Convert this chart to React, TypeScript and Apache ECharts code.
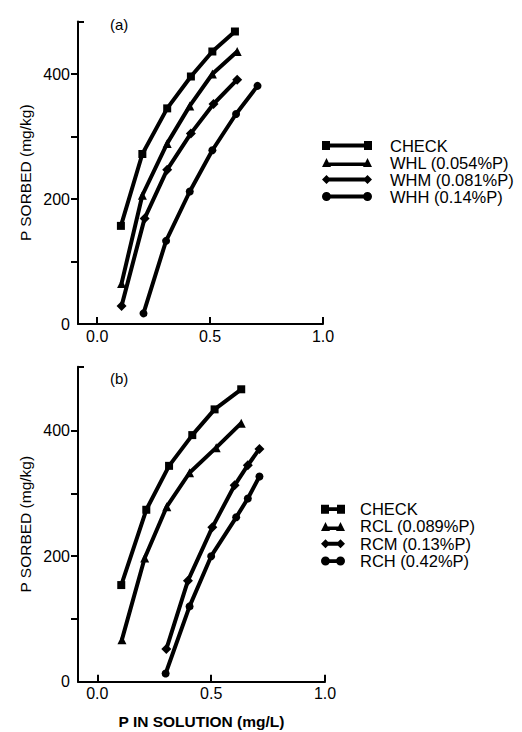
import React, { useEffect, useRef } from "react";
import * as echarts from "echarts";

const FONT = '"Liberation Sans", Arial, Helvetica, sans-serif';

// Panel (a)
const aCheckX = [0.105, 0.2, 0.31, 0.415, 0.51, 0.61];
const aCheckY = [157, 272, 345, 396, 436, 468];
const aWhlX = [0.108, 0.2, 0.31, 0.41, 0.51, 0.62];
const aWhlY = [65, 206, 289, 349, 400, 436];
const aWhmX = [0.108, 0.21, 0.31, 0.415, 0.515, 0.62];
const aWhmY = [29, 169, 247, 305, 352, 391];
const aWhhX = [0.205, 0.305, 0.41, 0.51, 0.615, 0.71];
const aWhhY = [17, 133, 212, 278, 336, 381];

// Panel (b)
const bCheckX = [0.105, 0.215, 0.315, 0.417, 0.515, 0.632];
const bCheckY = [154, 274, 344, 393, 434, 466];
const bRclX = [0.108, 0.208, 0.305, 0.405, 0.522, 0.632];
const bRclY = [67, 197, 279, 333, 373, 412];
const bRcmX = [0.303, 0.398, 0.505, 0.603, 0.661, 0.712];
const bRcmY = [52, 161, 246, 313, 345, 371];
const bRchX = [0.3, 0.405, 0.5, 0.61, 0.661, 0.712];
const bRchY = [13, 120, 200, 262, 292, 327];

const namesA = ["CHECK", "WHL (0.054%P)", "WHM (0.081%P)", "WHH (0.14%P)"];
const namesB = ["CHECK", "RCL (0.089%P)", "RCM (0.13%P)", "RCH (0.42%P)"];
const symbols = ["rect", "triangle", "diamond", "circle"];
const symbolSizes = [8, 9, 10, 8];

const xTickValues = [0, 0.5, 1.0];
const yLabelValues = [0, 200, 400];
const yTickValues = [100, 200, 300, 400];
const xMin = -0.085;
const xMax = 1.0;
const yMaxA = 484;
const yMaxB = 502;

const zip = (xs: number[], ys: number[]) => xs.map((x, i) => [x, ys[i]]);

function marker(kind: string, x0: number): string {
  switch (kind) {
    case "rect":
      return `M${x0},0 H${x0 + 8} V9 H${x0} Z`;
    case "triangle":
      return `M${x0},9 L${x0 + 4.5},0 L${x0 + 9},9 Z`;
    case "diamond":
      return `M${x0},4.5 L${x0 + 4.5},0 L${x0 + 9},4.5 L${x0 + 4.5},9 Z`;
    default:
      return `M${x0},4.5 A4.5,4.5 0 1 1 ${x0 + 9},4.5 A4.5,4.5 0 1 1 ${x0},4.5 Z`;
  }
}

function iconPath(kind: string, W: number): string {
  const mw = kind === "rect" ? 8 : 9;
  const lineY = kind === "triangle" ? "M4,4.5 H" + (W - 4) + " V8 H4 Z" : `M4,2.6 H${W - 4} V6.4 H4 Z`;
  return "path://" + marker(kind, 0) + " " + marker(kind, W - mw) + " " + lineY;
}

function lineSeries(name: string, xs: number[], ys: number[], k: number, gi: number) {
  return {
    type: "line",
    name,
    xAxisIndex: gi,
    yAxisIndex: gi,
    data: zip(xs, ys),
    symbol: symbols[k],
    symbolSize: symbolSizes[k],
    showSymbol: true,
    lineStyle: { color: "#000", width: 4 },
    itemStyle: { color: "#000" },
    z: 3,
  };
}

const axisText = { color: "#000", fontSize: 16, fontFamily: FONT };

function xAxis(gi: number, withName: boolean) {
  return {
    type: "value",
    gridIndex: gi,
    min: xMin,
    max: xMax,
    axisLine: { show: true, onZero: false, lineStyle: { color: "#000", width: 2 } },
    axisTick: { show: true, inside: true, length: 7, customValues: xTickValues, lineStyle: { color: "#000", width: 2 } },
    axisLabel: { ...axisText, margin: 4, customValues: xTickValues, formatter: (v: number) => v.toFixed(1) },
    splitLine: { show: false },
    name: withName ? "P IN SOLUTION (mg/L)" : "",
    nameLocation: "middle",
    nameGap: 32,
    nameTextStyle: { color: "#000", fontSize: 15.5, fontWeight: "bold", fontFamily: FONT },
  };
}

function yAxis(gi: number, max: number) {
  return {
    type: "value",
    gridIndex: gi,
    min: 0,
    max,
    axisLine: { show: true, onZero: false, lineStyle: { color: "#000", width: 2 } },
    axisTick: { show: true, length: 7, customValues: yTickValues, lineStyle: { color: "#000", width: 2 } },
    axisLabel: { ...axisText, margin: 8, customValues: yLabelValues },
    splitLine: { show: false },
    name: "P SORBED (mg/kg)",
    nameLocation: "middle",
    nameGap: 45,
    nameTextStyle: { color: "#000", fontSize: 15.5, fontFamily: FONT },
  };
}

function capAxis(gi: number, max: number) {
  return {
    type: "value",
    gridIndex: gi,
    min: 0,
    max,
    position: "left",
    axisLine: { show: false, onZero: false },
    axisTick: { show: true, inside: true, length: 6, customValues: [max], lineStyle: { color: "#000", width: 2 } },
    axisLabel: { show: false },
    splitLine: { show: false },
  };
}

function legend(names: string[], left: number, top: number, W: number, lh: number, padLeft: number) {
  return {
    orient: "vertical",
    left,
    top,
    padding: 0,
    itemGap: 0,
    itemWidth: W,
    itemHeight: 9,
    selectedMode: false,
    symbolKeepAspect: false,
    textStyle: { color: "#000", fontSize: 16.5, fontFamily: FONT, lineHeight: lh, padding: [0, 0, 0, padLeft] },
    data: names.map((n, i) => ({ name: n, icon: iconPath(symbols[i], W) })),
  };
}

export default function App() {
  const ref = useRef<HTMLDivElement>(null);
  useEffect(() => {
    if (!ref.current) return;
    const chart = echarts.init(ref.current, undefined, { renderer: "svg" });
    chart.setOption({
      animation: false,
      backgroundColor: "#fff",
      grid: [
        { left: 78, top: 21.5, width: 245, height: 302.5, containLabel: false, outerBoundsMode: "none" },
        { left: 78, top: 366.7, width: 247, height: 315, containLabel: false, outerBoundsMode: "none" },
      ],
      xAxis: [xAxis(0, false), xAxis(1, true)],
      yAxis: [yAxis(0, yMaxA), yAxis(1, yMaxB), capAxis(0, yMaxA), capAxis(1, yMaxB)],
      legend: [
        legend(namesA, 322, 137, 50, 16.7, 13),
        legend(namesB, 321, 500.5, 24, 17.3, 10),
      ],
      graphic: [
        { type: "text", left: 110, top: 17, style: { text: "(a)", fill: "#000", fontSize: 15, fontFamily: FONT } },
        { type: "text", left: 110, top: 371, style: { text: "(b)", fill: "#000", fontSize: 15, fontFamily: FONT } },
      ],
      series: [
        lineSeries(namesA[0], aCheckX, aCheckY, 0, 0),
        lineSeries(namesA[1], aWhlX, aWhlY, 1, 0),
        lineSeries(namesA[2], aWhmX, aWhmY, 2, 0),
        lineSeries(namesA[3], aWhhX, aWhhY, 3, 0),
        lineSeries(namesB[0], bCheckX, bCheckY, 0, 1),
        lineSeries(namesB[1], bRclX, bRclY, 1, 1),
        lineSeries(namesB[2], bRcmX, bRcmY, 2, 1),
        lineSeries(namesB[3], bRchX, bRchY, 3, 1),
      ],
    });
    return () => chart.dispose();
  }, []);
  return (
    <div
      ref={ref}
      style={{ position: "fixed", left: 0, top: 0, width: 522, height: 732, background: "#fff" }}
    />
  );
}
